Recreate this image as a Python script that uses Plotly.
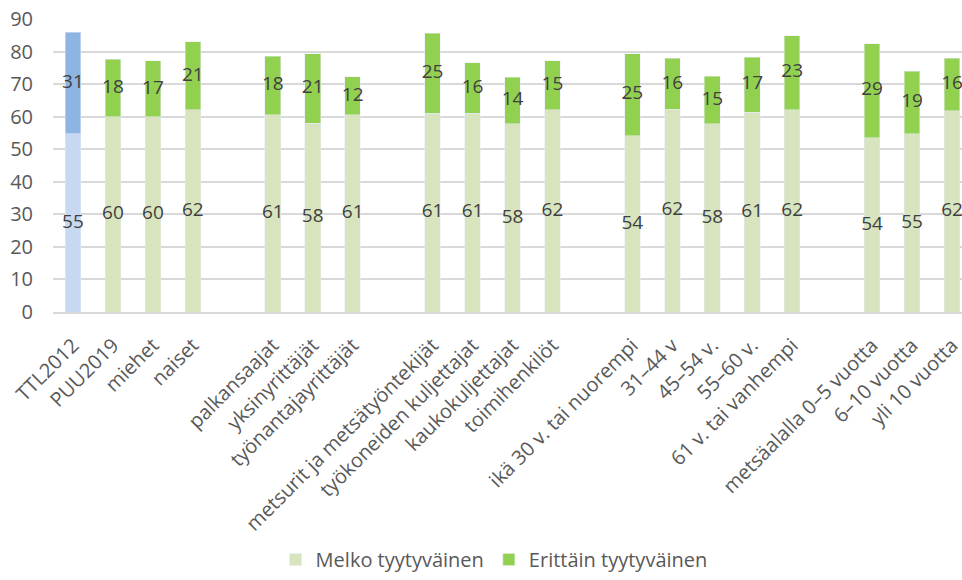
import plotly.graph_objects as go

# Groups of categories (a blank slot separates groups)
groups = [
    ["TTL2012", "PUU2019", "miehet", "naiset"],
    ["palkansaajat", "yksinyrittäjät", "työnantajayrittäjät"],
    ["metsurit ja metsätyöntekijät", "työkoneiden kuljettajat", "kaukokuljettajat", "toimihenkilöt"],
    ["ikä 30 v. tai nuorempi", "31–44 v", "45–54 v.", "55–60 v.", "61 v. tai vanhempi"],
    ["metsäalalla 0–5 vuotta", "6–10 vuotta", "yli 10 vuotta"],
]

melko = {
    "TTL2012": 54.8, "PUU2019": 59.9, "miehet": 59.9, "naiset": 62.1,
    "palkansaajat": 60.6, "yksinyrittäjät": 58.0, "työnantajayrittäjät": 60.6,
    "metsurit ja metsätyöntekijät": 61.0, "työkoneiden kuljettajat": 61.0,
    "kaukokuljettajat": 57.8, "toimihenkilöt": 62.2,
    "ikä 30 v. tai nuorempi": 54.1, "31–44 v": 62.3, "45–54 v.": 57.8,
    "55–60 v.": 61.4, "61 v. tai vanhempi": 62.2,
    "metsäalalla 0–5 vuotta": 53.6, "6–10 vuotta": 54.8, "yli 10 vuotta": 61.8,
}
erittain = {
    "TTL2012": 31.1, "PUU2019": 17.7, "miehet": 17.3, "naiset": 20.9,
    "palkansaajat": 18.0, "yksinyrittäjät": 21.4, "työnantajayrittäjät": 11.6,
    "metsurit ja metsätyöntekijät": 24.6, "työkoneiden kuljettajat": 15.6,
    "kaukokuljettajat": 14.3, "toimihenkilöt": 15.0,
    "ikä 30 v. tai nuorempi": 25.3, "31–44 v": 15.6, "45–54 v.": 14.6,
    "55–60 v.": 16.9, "61 v. tai vanhempi": 22.7,
    "metsäalalla 0–5 vuotta": 28.8, "6–10 vuotta": 19.2, "yli 10 vuotta": 16.2,
}
reference_cat = "TTL2012"

# Build category order with unique blank spacers
order = []
for i, g in enumerate(groups):
    if i > 0:
        order.append(" " * i)
    order.extend(g)

main_cats = [c for g in groups for c in g if c != reference_cat]

GREEN_L = "#d7e4bd"
GREEN_D = "#92d050"
BLUE_L = "#c6d9f1"
BLUE_D = "#8eb4e3"
FONT = "'Open Sans', sans-serif"

fig = go.Figure()
bw = 0.39
fig.add_bar(x=main_cats, y=[melko[c] for c in main_cats], name="Melko tyytyväinen",
            marker_color=GREEN_L, width=bw)
fig.add_bar(x=main_cats, y=[erittain[c] for c in main_cats], name="Erittäin tyytyväinen",
            marker_color=GREEN_D, width=bw)
fig.add_bar(x=[reference_cat], y=[melko[reference_cat]], marker_color=BLUE_L, width=bw,
            showlegend=False)
fig.add_bar(x=[reference_cat], y=[erittain[reference_cat]], marker_color=BLUE_D, width=bw,
            showlegend=False)

all_cats = [c for g in groups for c in g]
# data labels centred in each segment
fig.add_scatter(x=all_cats, y=[melko[c] / 2 for c in all_cats], mode="text",
                text=[f"{melko[c]:.0f}" for c in all_cats],
                textfont=dict(size=19, color="#404040", family=FONT), showlegend=False,
                hoverinfo="skip")
fig.add_scatter(x=all_cats, y=[melko[c] + erittain[c] / 2 for c in all_cats], mode="text",
                text=[f"{erittain[c]:.0f}" for c in all_cats],
                textfont=dict(size=19, color="#404040", family=FONT), showlegend=False,
                hoverinfo="skip")

fig.update_layout(
    barmode="stack",
    width=972, height=580,
    margin=dict(l=53, r=0, t=19, b=263.5),
    plot_bgcolor="white", paper_bgcolor="white",
    font=dict(family=FONT, color="#595959", size=18),
    legend=dict(orientation="h", x=0.48, xanchor="center", y=-0.845, yanchor="middle",
                font=dict(size=20, color="#595959"), traceorder="normal"),
    xaxis=dict(type="category", categoryorder="array", categoryarray=order,
               range=[-0.5, len(order) - 0.5],
               tickangle=-45, tickfont=dict(size=20, color="#595959"),
               ticklabelstandoff=12,
               showgrid=False, showline=True, linecolor="#d9d9d9", linewidth=1.5, ticks=""),
    yaxis=dict(range=[0, 90], dtick=10, showgrid=True, gridcolor="#d9d9d9", gridwidth=1.5,
               zeroline=False, tickfont=dict(size=20, color="#595959"), ticks="",
               ticklabelstandoff=19),
)

fig.write_html("out.html", config={"displayModeBar": False},
               post_script="document.body.style.margin='0';document.body.style.overflow='hidden';")
